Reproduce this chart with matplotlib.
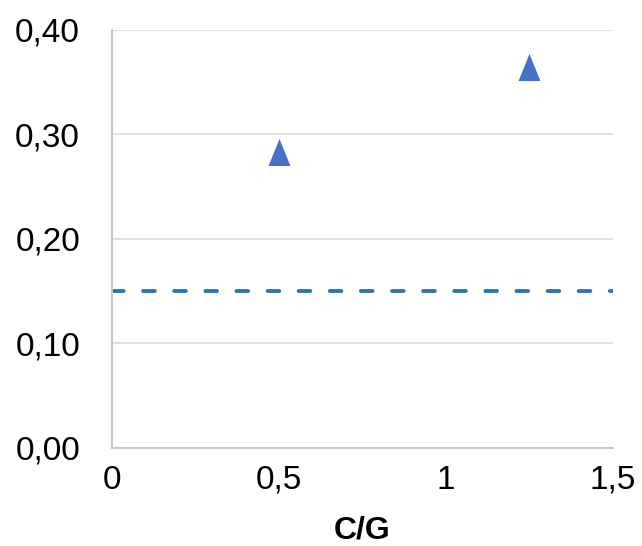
import matplotlib
matplotlib.use("Agg")
import matplotlib.pyplot as plt
from matplotlib.ticker import FixedLocator, FuncFormatter

# Measured C/G ratios and their values
cg_ratio = [0.5, 1.25]
values = [0.283, 0.365]
threshold = 0.15

x_ticks = [0, 0.5, 1, 1.5]
y_ticks = [0.0, 0.1, 0.2, 0.3, 0.4]

plt.rcParams['font.family'] = ['Liberation Sans', 'DejaVu Sans']

fig = plt.figure(figsize=(6.42, 5.46), dpi=100)
ax = fig.add_axes([0.1745, 0.1795, 0.7803, 0.7656])

ax.set_xlim(0, 1.5)
ax.set_ylim(0, 0.4)

# horizontal gridlines
ax.yaxis.grid(True, color='#D9D9D9', linewidth=1.1)
ax.xaxis.grid(False)
ax.set_axisbelow(True)

for side in ('top', 'right'):
    ax.spines[side].set_visible(False)
for side in ('left', 'bottom'):
    ax.spines[side].set_color('#C6C6C6')
    ax.spines[side].set_linewidth(1.4)

# reference level
ax.axhline(threshold, color='#2E75B6', linewidth=2.8, dashes=(3.0, 5.0),
           dash_capstyle='round', zorder=2)

# slightly tall triangle marker
tri = [(-0.81, -1.0), (0.81, -1.0), (0.0, 1.0), (-0.81, -1.0)]
ax.plot(cg_ratio, values, linestyle='none', marker=tri, markersize=19.5,
        color='#4472C4', markeredgewidth=0, zorder=3, clip_on=False)

ax.xaxis.set_major_locator(FixedLocator(x_ticks))
ax.yaxis.set_major_locator(FixedLocator(y_ticks))
ax.xaxis.set_major_formatter(FuncFormatter(lambda v, p: f"{v:g}".replace('.', ',')))
ax.yaxis.set_major_formatter(FuncFormatter(lambda v, p: f"{v:.2f}".replace('.', ',')))

ax.tick_params(axis='both', length=0, labelsize=24, colors='black')
ax.tick_params(axis='y', pad=23)
ax.tick_params(axis='x', pad=12)

ax.set_xlabel('C/G', fontsize=23, fontweight='bold', labelpad=14)

fig.savefig('out.png', dpi=100)
